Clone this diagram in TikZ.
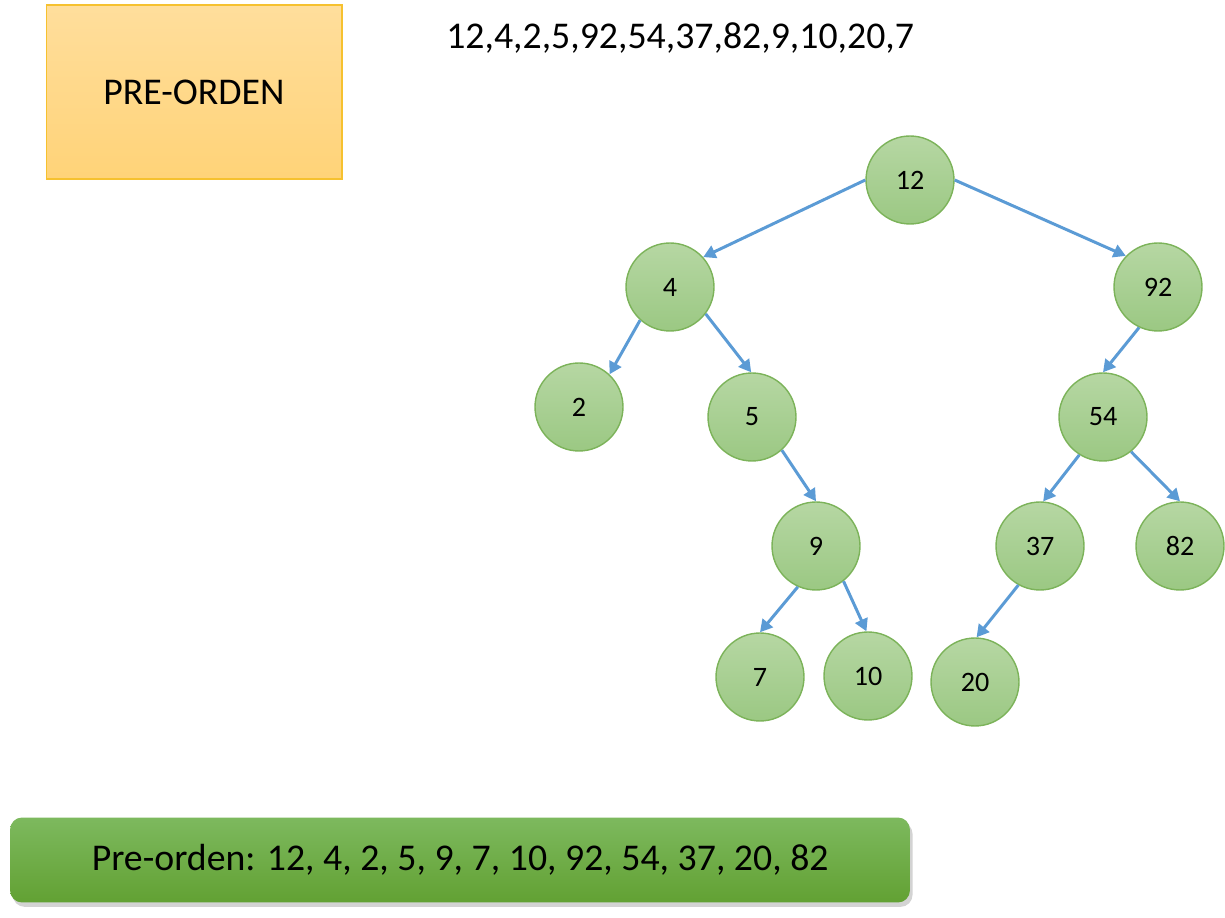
\documentclass[tikz,border=0pt]{standalone}
\usepackage{fontspec}
\setmainfont{Carlito}
\usetikzlibrary{arrows.meta,shadows}
\definecolor{nodetop}{HTML}{B6D7A3}
\definecolor{nodebot}{HTML}{9BC883}
\definecolor{nodeline}{HTML}{7CB35A}
\definecolor{arrowblue}{HTML}{5B9BD5}
\definecolor{boxtop}{HTML}{FFDE9C}
\definecolor{boxbot}{HTML}{FFD378}
\definecolor{boxline}{HTML}{F6C12F}
\definecolor{bartop}{HTML}{7DB95E}
\definecolor{barbot}{HTML}{62A133}
\tikzset{
  treenode/.style={circle, inner sep=0pt, minimum size=1.76cm, draw=nodeline, line width=0.8pt,
    top color=nodetop, bottom color=nodebot, font=\fontsize{16}{19}\selectfont},
  link/.style={draw=arrowblue, line width=1.7pt, -{Triangle[length=7pt,width=7.5pt]}},
  bigtext/.style={font=\fontsize{21.5}{26}\selectfont}
}
\begin{document}
\begin{tikzpicture}[x=0.02cm,y=-0.02cm]
\useasboundingbox (0,0) rectangle (1225,918);
\node[bigtext, draw=boxline, line width=0.6pt, top color=boxtop, bottom color=boxbot,
  minimum width=5.92cm, minimum height=3.48cm, inner sep=0pt] (title) at (194,92) {PRE-ORDEN};
\node[bigtext] (seq) at (680,38) {12,4,2,5,92,54,37,82,9,10,20,7};
\node[bigtext, rounded corners=0.24cm, top color=bartop, bottom color=barbot,
  minimum width=18cm, minimum height=1.7cm, inner sep=0pt,
  drop shadow={opacity=0.35, shadow xshift=1.5pt, shadow yshift=-2.5pt}] (result) at (460,860)
  {Pre-orden: 12, 4, 2, 5, 9, 7, 10, 92, 54, 37, 20, 82};

\node[treenode] (n12) at (910,180) {12};
\node[treenode] (n4) at (670,287) {4};
\node[treenode] (n92) at (1158,287) {92};
\node[treenode] (n2) at (579,407) {2};
\node[treenode] (n5) at (752,417) {5};
\node[treenode] (n54) at (1103,417) {54};
\node[treenode] (n9) at (816,546) {9};
\node[treenode] (n37) at (1040,546) {37};
\node[treenode] (n82) at (1180,546) {82};
\node[treenode] (n7) at (760,677) {7};
\node[treenode] (n10) at (868,676) {10};
\node[treenode] (n20) at (975,682) {20};

\draw[link] (n12.180) -- (n4.42);
\draw[link] (n12.0) -- (n92.136);
\draw[link] (n4.228) -- (n2.47);
\draw[link] (n4.323) -- (n5.91);
\draw[link] (n5.312) -- (n9.90);
\draw[link] (n92.245) -- (n54.90);
\draw[link] (n54.238) -- (n37.86);
\draw[link] (n54.309) -- (n82.90);
\draw[link] (n9.246) -- (n7.90);
\draw[link] (n9.308) -- (n10.92);
\draw[link] (n37.241) -- (n20.88);
\end{tikzpicture}
\end{document}
